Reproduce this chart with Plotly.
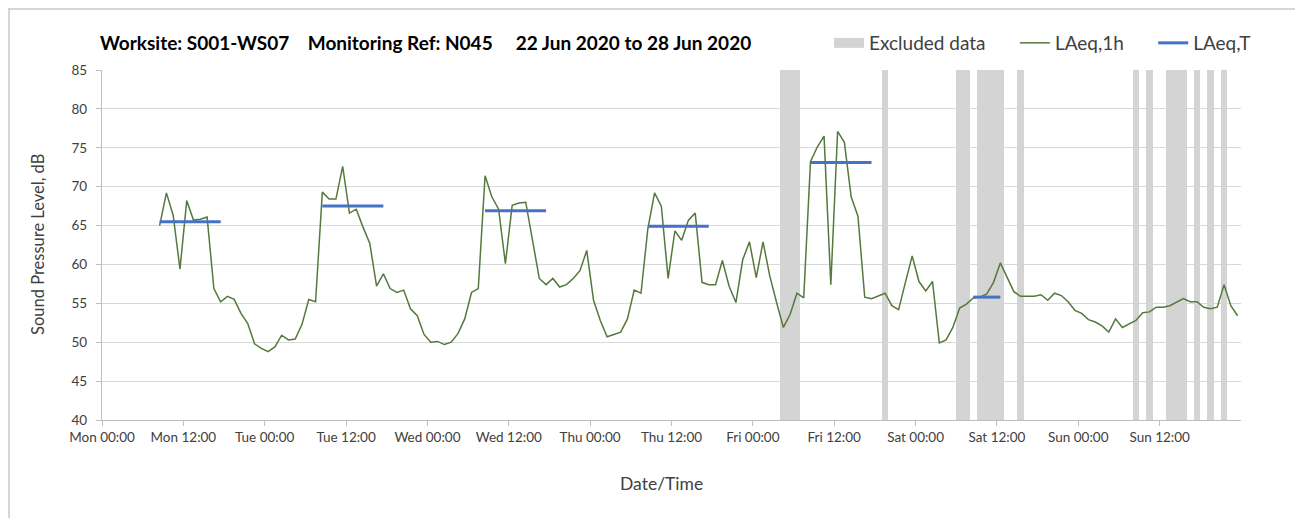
import pandas as pd
import plotly.graph_objects as go

# ---------------- data ----------------
first_time = "2020-06-22 08:30"   # first hourly LAeq,1h value (Mon)
laeq_1h = [
    65.0, 69.2, 66.3, 59.4, 68.2, 65.7, 65.8, 66.1, 56.9, 55.2,
    55.9, 55.5, 53.7, 52.4, 49.8, 49.2, 48.8, 49.4, 50.9, 50.3,
    50.4, 52.3, 55.5, 55.2, 69.3, 68.4, 68.4, 72.6, 66.6, 67.1,
    64.8, 62.7, 57.2, 58.8, 56.9, 56.4, 56.7, 54.3, 53.4, 51.0,
    50.0, 50.1, 49.7, 50.0, 51.1, 53.0, 56.4, 56.9, 71.4, 68.7,
    67.1, 60.1, 67.6, 67.9, 68.0, 63.1, 58.2, 57.4, 58.2, 57.1,
    57.4, 58.2, 59.2, 61.8, 55.4, 52.8, 50.7, 51.0, 51.3, 53.0,
    56.7, 56.3, 64.5, 69.2, 67.5, 58.2, 64.3, 63.1, 65.7, 66.6,
    57.7, 57.4, 57.4, 60.5, 57.2, 55.1, 60.6, 62.9, 58.3, 62.9,
    58.5, 55.1, 51.9, 53.6, 56.3, 55.7, 73.2, 75.1, 76.5, 57.4,
    77.1, 75.7, 68.7, 66.2, 55.8, 55.6, 55.9, 56.3, 54.7, 54.2,
    57.7, 61.1, 57.8, 56.6, 57.8, 49.9, 50.3, 51.9, 54.4, 54.9,
    55.7, 55.8, 56.2, 57.7, 60.2, 58.4, 56.5, 55.9, 55.9, 55.9,
    56.1, 55.4, 56.3, 56.0, 55.2, 54.1, 53.7, 52.9, 52.6, 52.1,
    51.3, 53.0, 51.9, 52.4, 52.8, 53.8, 53.9, 54.5, 54.5, 54.7,
    55.1, 55.6, 55.2, 55.2, 54.5, 54.3, 54.5, 57.4, 54.7, 53.4,
]

# LAeq,T period values (start of period, end of period, level)
laeq_t_start = ["2020-06-22 08:30", "2020-06-23 08:30", "2020-06-24 08:30",
                "2020-06-25 08:30", "2020-06-26 08:30", "2020-06-27 08:30"]
laeq_t_end = ["2020-06-22 17:30", "2020-06-23 17:30", "2020-06-24 17:30",
              "2020-06-25 17:30", "2020-06-26 17:30", "2020-06-27 12:30"]
laeq_t_values = [65.5, 67.5, 66.9, 64.9, 73.1, 55.8]

# hours flagged as excluded data
excluded_times = [
    "2020-06-26 04:30", "2020-06-26 05:30", "2020-06-26 06:30",
    "2020-06-26 19:30",
    "2020-06-27 06:30", "2020-06-27 07:30",
    "2020-06-27 09:30", "2020-06-27 10:30", "2020-06-27 11:30", "2020-06-27 12:30",
    "2020-06-27 15:30",
    "2020-06-28 08:30", "2020-06-28 10:30",
    "2020-06-28 13:30", "2020-06-28 14:30", "2020-06-28 15:30",
    "2020-06-28 17:30", "2020-06-28 19:30", "2020-06-28 21:30",
]

axis_start = "2020-06-22 00:00"
axis_end = "2020-06-29 00:00"
tick_times = pd.date_range(axis_start, "2020-06-28 12:00", freq="12h")
tick_labels = [t.strftime("%a %H:%M") for t in tick_times]
day_lines = pd.date_range(axis_start, axis_end, freq="24h")

y_min, y_max = 40, 85
title_text = ("Worksite: S001-WS07" + "\u00a0" * 4 + "Monitoring Ref: N045"
              + "\u00a0" * 5 + "22 Jun 2020 to 28 Jun 2020")
# --------------------------------------

times = pd.date_range(first_time, periods=len(laeq_1h), freq="h")

FONT = "Lato"
GREEN = "#55793c"
BLUE = "#4472c4"
GREY_BAND = "#d4d4d4"
GRID = "#d9d9d9"

W, H = 1295, 510
ML, MT, PW, PH = 94, 62, 1139, 350


def px_x(x):
    return (x - ML) / PW


def px_y(y):
    return (MT + PH - y) / PH


fig = go.Figure()

fig.add_trace(go.Bar(
    x=pd.to_datetime(excluded_times),
    y=[y_max - y_min] * len(excluded_times),
    base=y_min,
    width=3600 * 1000,
    marker=dict(color=GREY_BAND, line=dict(width=0)),
    name="Excluded data",
    showlegend=False,
    hoverinfo="skip",
))
# legend entry for the excluded data bands
fig.add_trace(go.Scatter(
    x=[None], y=[None], mode="lines",
    line=dict(color=GREY_BAND, width=10),
    name="Excluded data" + "\u00a0" * 5,
))

fig.add_trace(go.Scatter(
    x=times, y=laeq_1h, mode="lines",
    line=dict(color=GREEN, width=1.5),
    name="LAeq,1h" + "\u00a0" * 5,
))

tx, ty = [], []
for s, e, v in zip(laeq_t_start, laeq_t_end, laeq_t_values):
    tx += [pd.Timestamp(s), pd.Timestamp(e), None]
    ty += [v, v, None]
fig.add_trace(go.Scatter(
    x=tx, y=ty, mode="lines",
    line=dict(color=BLUE, width=3),
    name="LAeq,T",
))

# vertical day gridlines
for d in day_lines[1:-1]:
    fig.add_shape(type="line", xref="x", yref="y", x0=d, x1=d, y0=y_min, y1=y_max,
                  line=dict(color=GRID, width=1.3), layer="below")

fig.update_layout(
    width=W, height=H,
    margin=dict(l=ML, r=W - ML - PW, t=MT, b=H - MT - PH),
    paper_bgcolor="white", plot_bgcolor="white",
    font=dict(family=FONT, color="#404040", size=13),
    bargap=0,
    showlegend=True,
    legend=dict(orientation="h", x=px_x(821), xanchor="left", y=px_y(35), yanchor="middle",
                font=dict(size=19, color="#404040"), traceorder="normal",
                itemwidth=30, bgcolor="rgba(0,0,0,0)"),
    xaxis=dict(
        type="date", range=[axis_start, axis_end],
        tickvals=tick_times, ticktext=tick_labels,
        showgrid=False, showline=True, linecolor="#bfbfbf", linewidth=1.3,
        ticks="outside", ticklen=5, tickcolor="#bfbfbf",
        tickfont=dict(size=13.5, color="#404040"), zeroline=False,
    ),
    yaxis=dict(
        range=[y_min, y_max], dtick=5, tick0=40,
        showgrid=True, gridcolor=GRID, gridwidth=1.3,
        showline=True, linecolor="#bfbfbf", linewidth=1.3,
        ticks="outside", ticklen=5, tickcolor="#bfbfbf",
        tickfont=dict(size=13.5, color="#404040"), zeroline=False,
        ticklabelstandoff=6,
    ),
    annotations=[
        dict(text="<b>" + title_text + "</b>",
             xref="paper", yref="paper", x=px_x(90), y=px_y(35), xanchor="left", yanchor="middle",
             showarrow=False, font=dict(size=19, color="#000000", family=FONT)),
        dict(text="Sound Pressure Level, dB", xref="paper", yref="paper",
             x=px_x(30), y=0.5, xanchor="center", yanchor="middle", textangle=-90,
             showarrow=False, font=dict(size=16.5, color="#404040", family=FONT)),
        dict(text="Date/Time", xref="paper", yref="paper",
             x=px_x(653), y=px_y(475), xanchor="center", yanchor="middle",
             showarrow=False, font=dict(size=17.5, color="#404040", family=FONT)),
    ],
    shapes=[
        dict(type="line", xref="paper", yref="paper", x0=px_x(1), x1=px_x(1),
             y0=px_y(0), y1=px_y(H), line=dict(color="#d0d0d0", width=1), layer="below"),
        dict(type="line", xref="paper", yref="paper", x0=px_x(0), x1=px_x(W),
             y0=px_y(1), y1=px_y(1), line=dict(color="#d0d0d0", width=1), layer="below"),
    ],
)

fig.write_html("out.html")
